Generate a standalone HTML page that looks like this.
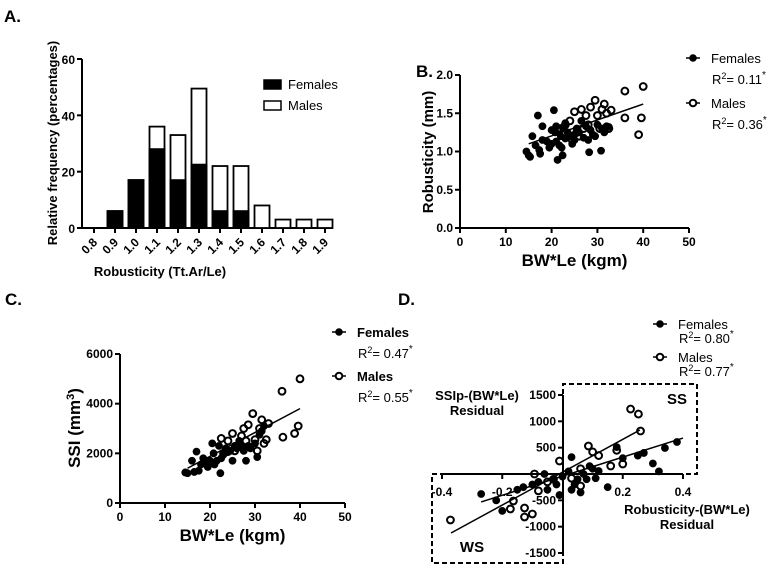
<!DOCTYPE html>
<html><head><meta charset="utf-8"><style>
body{margin:0;background:#fff}
svg{display:block;font-family:"Liberation Sans",Arial,sans-serif}
.t{font-size:12px;font-weight:bold}
.lg{font-size:13px}
</style></head><body>
<svg id="fig" width="769" height="566" viewBox="0 0 769 566" xmlns="http://www.w3.org/2000/svg">
<g font-weight="bold" font-size="17">
<text x="4" y="22">A.</text>
<text x="416" y="77">B.</text>
<text x="5" y="305">C.</text>
<text x="398" y="305">D.</text>
</g>
<g id="pa"></g>
<g id="pb"></g>
<g id="pc"></g>
<g id="pd"></g>
</svg>
<script>
// Panel A data
const aCats=["0.8","0.9","1.0","1.1","1.2","1.3","1.4","1.5","1.6","1.7","1.8","1.9"];
const aFemales=[0,6,17,28,17,22.5,6,6,0,0,0,0];
const aMales=[0,0,0,8,16,27,16,16,8,3,3,3];
const aTicks=[0,20,40,60];
// Panel B data
const bFemX=[14.5,15,15.3,15.8,16.5,17,17.3,17.5,18,18,19,19.5,20,20,20.5,20.8,21,21,21.3,21.7,22,22.2,22.4,22.5,23,23,23.5,24,24.5,25,25,25.5,26,26.5,27,27.5,28,28.2,28.5,29,29.5,30,30.8,31,31.5,32,32.5];
const bFemY=[1.0,0.95,0.93,1.2,1.08,1.47,1.02,0.97,1.33,1.15,1.13,1.05,1.28,1.1,1.54,1.25,1.33,1.13,0.89,1.08,1.2,1.05,0.95,1.3,1.37,1.17,1.25,1.2,1.1,1.22,1.15,1.3,1.25,1.4,1.18,1.33,1.15,0.99,1.28,1.22,1.2,1.35,1.01,1.3,1.25,1.33,1.32];
const bMalX=[22,23,24,25,25.5,26.5,27,27.5,28,28.5,29.5,30,30.5,31,31.5,32,32.5,33,36,36,39,39.6,40,26,24.5];
const bMalY=[1.3,1.35,1.4,1.52,1.25,1.55,1.3,1.47,1.35,1.58,1.67,1.47,1.3,1.55,1.62,1.5,1.3,1.54,1.79,1.44,1.22,1.44,1.85,1.2,1.15];
const bLine=[[15,1.1],[40,1.62]];
const bYTicks=[0,0.5,1.0,1.5,2.0];
const xTicks=[0,10,20,30,40,50];
// Panel C data
const cFemX=[14.5,15,16,16.5,17,17.5,18,18.5,19,19.5,20,20.5,20.8,21,21.5,22,22.3,22.5,23,23.5,24,24.5,25,25.5,26,26.5,27,27.5,28,28.5,29,30,30.5,31,31.5,32];
const cFemY=[1230,1200,1700,1250,2070,1300,1550,1800,1600,1450,1700,2400,2000,1550,1700,2300,1200,1800,1950,2200,2050,2100,1700,2300,2200,2500,2300,2100,1700,2300,2200,2400,1850,2750,2900,3100];
const cMalX=[22.5,24,25,26,27,27.5,28,28.5,29.5,30,30.5,31,31.5,32,32.5,33,36,36.2,38.8,39.6,40,25.5,23];
const cMalY=[2600,2500,2800,2300,2700,3000,2500,3150,3600,2550,2100,3000,3350,2400,2550,3200,4500,2650,2800,3100,5000,2100,2000];
const cLine=[[15,1400],[40,3800]];
const cYTicks=[0,2000,4000,6000];
// Panel D data
const dFemX=[-0.27,-0.22,-0.2,-0.15,-0.13,-0.1,-0.08,-0.05,-0.03,-0.02,0,0.02,0.03,0.05,0.06,0.07,0.08,0.1,0.12,0.15,0.18,0.2,0.25,0.27,0.3,0.32,0.34,0.38,-0.06,0.03,0.04,0.09,-0.01,0.11];
const dFemY=[-380,-500,-700,-300,-250,-200,-150,-300,-100,-200,-50,50,-300,-100,-350,0,-100,100,57,-250,510,300,350,400,200,50,493,607,0,320,-200,150,-400,-80];
const dMalX=[-0.372,-0.173,-0.163,-0.126,-0.126,-0.1,-0.08,-0.093,-0.01,0.03,0.06,0.086,0.1,0.12,0.16,0.2,0.226,0.252,0.259,0.06,-0.03,0.18,-0.05];
const dMalY=[-873,-664,-512,-645,-816,-759,-320,0,247,-80,-228,531,420,350,152,190,1233,1138,816,100,-100,450,-150];
const dFemLine=[[-0.27,-530],[0.4,683]];
const dMalLine=[[-0.37,-1120],[0.257,835]];
const dYTicks=[-1500,-1000,-500,500,1000,1500];
const dXTicks=[-0.4,-0.2,0.2,0.4];

const NS="http://www.w3.org/2000/svg";
function mk(p,tag,at,txt){const e=document.createElementNS(NS,tag);for(const k in at)e.setAttribute(k,at[k]);if(txt!==undefined)e.textContent=txt;p.appendChild(e);return e;}
function lin(d0,d1,r0,r1){return v=>r0+(v-d0)*(r1-r0)/(d1-d0);}

// ---- Panel A
(function(){
const g=document.getElementById('pa');
const y=lin(0,60,228,59), x=i=>94+i*21;
let e=mk(g,'line',{x1:82,y1:228,x2:333,y2:228,stroke:'#000','stroke-width':2});


e=mk(g,'line',{x1:82,y1:228,x2:82,y2:59,stroke:'#000','stroke-width':2});


aTicks.forEach(t=>{
 e=mk(g,'line',{x1:77,x2:82,y1:y(t),y2:y(t),stroke:'#000','stroke-width':2});
 
 
 e=mk(g,'text',{x:75,y:y(t)+5,'text-anchor':'end',class:'t','font-size':'14'},t);
 
 
});
aCats.forEach((c,i)=>{
 e=mk(g,'line',{x1:x(i),x2:x(i),y1:228,y2:233,stroke:'#000','stroke-width':2});
 
 
 e=mk(g,'text',{x:x(i)+4,y:243,'text-anchor':'end',class:'t',transform:`rotate(-45 ${x(i)+4} 243)`},c);
 
 
 const tot=aFemales[i]+aMales[i];
 if(tot>0){
  e=mk(g,'rect',{x:x(i)-7.5,y:y(tot),width:15,height:228-y(tot),fill:'#fff',stroke:'#000','stroke-width':1.8});
  
  
 }
 if(aFemales[i]>0){
  e=mk(g,'rect',{x:x(i)-7.5,y:y(aFemales[i]),width:15,height:228-y(aFemales[i]),fill:'#000',stroke:'#000','stroke-width':1.8});
  
  
 }
});
e=mk(g,'text',{transform:'translate(57 143) rotate(-90)','text-anchor':'middle','font-size':'13','font-weight':'bold'},'Relative frequency (percentages)');


e=mk(g,'text',{x:160,y:276,'text-anchor':'middle','font-size':'13','font-weight':'bold'},'Robusticity (Tt.Ar/Le)');


e=mk(g,'rect',{x:264,y:80,width:17,height:9,fill:'#000',stroke:'#000','stroke-width':1.5});


e=mk(g,'text',{x:288,y:89,class:'lg'},'Females');


e=mk(g,'rect',{x:264,y:101,width:17,height:9,fill:'#fff',stroke:'#000','stroke-width':1.5});


e=mk(g,'text',{x:288,y:110,class:'lg'},'Males');


})();

function legendEntry(g,x,y,open,label,r2,bold,dr){
 dr=dr||26;
 let e=mk(g,'line',{x1:x,x2:x+14,y1:y,y2:y,stroke:'#000','stroke-width':1.5});
 
 
 e=mk(g,'circle',{cx:x+7,cy:y,r:3.3,fill:open?'#fff':'#000',stroke:'#000','stroke-width':open?2:1});
 
 
 e=mk(g,'text',{x:x+25,y:y+5,class:'lg','font-weight':bold?'bold':'normal'},label);
 
 
 e=mk(g,'text',{x:x+26,y:y+dr,class:'lg'});
 
 
 e.innerHTML='R<tspan dy="-5" font-size="9">2</tspan><tspan dy="5">= '+r2+'</tspan><tspan dy="-6" font-size="10">*</tspan>';
}

function scatter(g,xs,ys,x,y,open,name){
 xs.forEach((v,i)=>{
  const e=mk(g,'circle',{cx:x(v),cy:y(ys[i]),r:3.4,fill:open?'none':'#000',stroke:'#000','stroke-width':open?2:1});
  
  
 });
}

function xyPanel(g,o){
 const x=lin(0,50,o.x0,o.x1), y=lin(o.yMin,o.yMax,o.yb,o.yt);
 let e=mk(g,'line',{x1:o.x0,x2:o.x1,y1:o.yb,y2:o.yb,stroke:'#000','stroke-width':2});
 
 
 e=mk(g,'line',{x1:o.x0,x2:o.x0,y1:o.yb,y2:o.yt,stroke:'#000','stroke-width':2});
 
 
 xTicks.forEach(t=>{
  e=mk(g,'line',{x1:x(t),x2:x(t),y1:o.yb,y2:o.yb+5,stroke:'#000','stroke-width':2});
  
  
  e=mk(g,'text',{x:x(t),y:o.yb+18,'text-anchor':'middle',class:'t'},t);
  
  
 });
 o.yTicks.forEach(t=>{
  e=mk(g,'line',{x1:o.x0-5,x2:o.x0,y1:y(t),y2:y(t),stroke:'#000','stroke-width':2});
  
  
  e=mk(g,'text',{x:o.x0-7,y:y(t)+4,'text-anchor':'end',class:'t'},o.fmt(t));
  
  
 });
 scatter(g,o.mx,o.my,x,y,true,'point-male');
 scatter(g,o.fx,o.fy,x,y,false,'point-female');
 e=mk(g,'line',{x1:x(o.line[0][0]),y1:y(o.line[0][1]),x2:x(o.line[1][0]),y2:y(o.line[1][1]),stroke:'#000','stroke-width':1.5});
 
 
 e=mk(g,'text',{x:(o.x0+o.x1)/2,y:o.yb+38,'text-anchor':'middle','font-size':'17','font-weight':'bold'},'BW*Le (kgm)');
 
 
}

// ---- Panel B
(function(){
const g=document.getElementById('pb');
xyPanel(g,{x0:460,x1:689,yb:228,yt:75,yMin:0,yMax:2,yTicks:bYTicks,fmt:t=>t.toFixed(1),fx:bFemX,fy:bFemY,mx:bMalX,my:bMalY,line:bLine});
let e=mk(g,'text',{transform:'translate(433 152) rotate(-90)','text-anchor':'middle','font-size':'15','font-weight':'bold'},'Robusticity (mm)');


legendEntry(g,686,58,false,'Females','0.11',false);
legendEntry(g,686,103,true,'Males','0.36',false);
})();

// ---- Panel C
(function(){
const g=document.getElementById('pc');
xyPanel(g,{x0:120,x1:345,yb:503,yt:354,yMin:0,yMax:6000,yTicks:cYTicks,fmt:t=>t,fx:cFemX,fy:cFemY,mx:cMalX,my:cMalY,line:cLine});
let e=mk(g,'text',{transform:'translate(80 428) rotate(-90)','text-anchor':'middle','font-size':'17','font-weight':'bold'});


e.innerHTML='SSI (mm<tspan dy="-6" font-size="11">3</tspan><tspan dy="6">)</tspan>';
legendEntry(g,332,332,false,'Females','0.47',true);
legendEntry(g,332,376,true,'Males','0.55',true);
})();

// ---- Panel D
(function(){
const g=document.getElementById('pd');
const x=lin(-0.4,0.4,442,683), y=lin(0,1500,474,395);
let e=mk(g,'path',{d:'M563 474 V384 H697 V474 Z M432 474 H563 V563 H432 Z',fill:'none',stroke:'#000','stroke-width':2,'stroke-dasharray':'5 3'});


e=mk(g,'line',{x1:442,x2:683,y1:474,y2:474,stroke:'#000','stroke-width':2});


e=mk(g,'line',{x1:563,x2:563,y1:395,y2:553,stroke:'#000','stroke-width':2});


dXTicks.forEach(t=>{
 e=mk(g,'line',{x1:x(t),x2:x(t),y1:474,y2:479,stroke:'#000','stroke-width':2});
 
 
 e=mk(g,'text',{x:x(t),y:496,'text-anchor':'middle',class:'t'},t.toFixed(1));
 
 
});
dYTicks.forEach(t=>{
 e=mk(g,'line',{x1:558,x2:563,y1:y(t),y2:y(t),stroke:'#000','stroke-width':2});
 
 
 e=mk(g,'text',{x:556,y:y(t)+4,'text-anchor':'end',class:'t'},t);
 
 
});
scatter(g,dMalX,dMalY,x,y,true,'point-male');
scatter(g,dFemX,dFemY,x,y,false,'point-female');
[dFemLine,dMalLine].forEach((L,i)=>{
 e=mk(g,'line',{x1:x(L[0][0]),y1:y(L[0][1]),x2:x(L[1][0]),y2:y(L[1][1]),stroke:'#000','stroke-width':1.5});
 
 
});
const labs=[['SSIp-(BW*Le)',477,400,'y-axis-title'],['Residual',477,415,'y-axis-title-2'],['Robusticity-(BW*Le)',687,514,'x-axis-title'],['Residual',687,529,'x-axis-title-2']];
labs.forEach(l=>{
 e=mk(g,'text',{x:l[1],y:l[2],'text-anchor':'middle','font-size':'13','font-weight':'bold'},l[0]);
 
 
});
e=mk(g,'text',{x:677,y:404,'text-anchor':'middle','font-size':'15','font-weight':'bold'},'SS');


e=mk(g,'text',{x:472,y:552,'text-anchor':'middle','font-size':'15','font-weight':'bold'},'WS');


legendEntry(g,653,324,false,'Females','0.80',false,19);
legendEntry(g,653,357,true,'Males','0.77',false,19);
})();
</script>
</body></html>
